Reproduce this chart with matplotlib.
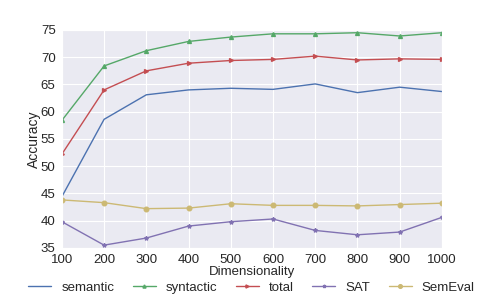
import numpy as np
import matplotlib.pyplot as plt
import seaborn as sns

sns.set_style("darkgrid")
plt.rcParams['font.family'] = ['Liberation Sans', 'DejaVu Sans']

# dimensionality vs accuracy
dims = [100, 200, 300, 400, 500, 600, 700, 800, 900, 1000]
semantic = [44.4, 58.6, 63.1, 64.0, 64.3, 64.1, 65.1, 63.5, 64.5, 63.7]
syntactic = [58.4, 68.4, 71.2, 72.9, 73.7, 74.3, 74.3, 74.5, 73.9, 74.5]
total = [52.2, 64.0, 67.5, 68.9, 69.4, 69.6, 70.2, 69.5, 69.7, 69.6]
sat = [39.8, 35.5, 36.8, 39.0, 39.8, 40.3, 38.2, 37.4, 37.9, 40.6]
semeval = [43.8, 43.3, 42.2, 42.3, 43.1, 42.8, 42.8, 42.7, 42.95, 43.2]

# old seaborn "deep" colours
pal = ['#4C72B0', '#55A868', '#C44E52', '#8172B2', '#CCB974']

fig = plt.figure(figsize=(4.91, 3.03), dpi=100)
ax = fig.add_axes([0.126, 0.182, 0.774, 0.719])

ax.plot(dims, semantic, color=pal[0], lw=1, label='semantic')
ax.plot(dims, syntactic, color=pal[1], lw=1, marker='^', ms=2.8, label='syntactic')
ax.plot(dims, total, color=pal[2], lw=1, marker='>', ms=2.8, label='total')
ax.plot(dims, sat, color=pal[3], lw=1, marker='*', ms=3, label='SAT')
ax.plot(dims, semeval, color=pal[4], lw=1, marker='o', ms=3.3, label='SemEval')

ax.set_xlim(100, 1000)
ax.set_ylim(35, 75)
ax.set_xticks(dims)
ax.set_yticks(range(35, 80, 5))
ax.tick_params(labelsize=9.5, pad=1)
ax.set_xlabel('Dimensionality', fontsize=9.5, labelpad=0)
ax.set_ylabel('Accuracy', fontsize=10, labelpad=0)

fig.legend(loc='center', bbox_to_anchor=(0.512, 0.05), ncol=5, frameon=False,
           fontsize=9.5, handlelength=1.75, columnspacing=1.4, handletextpad=0.75,
           markerscale=0.8)

fig.savefig('out.png', dpi=100)
